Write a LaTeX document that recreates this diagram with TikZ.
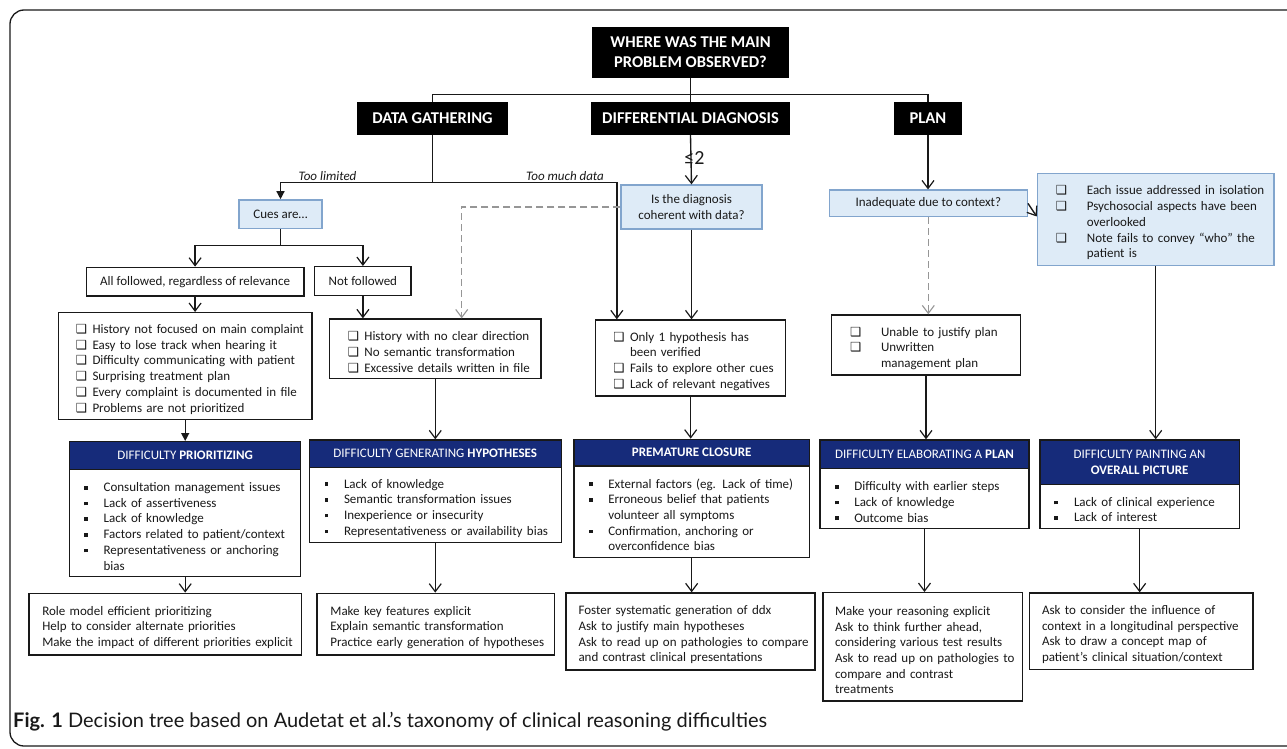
\documentclass[tikz,border=0pt]{standalone}
\usepackage{fontspec}
\setmainfont{Carlito}
\newfontfamily\dejavu{DejaVu Sans}
\newfontfamily\capfont{Lato}
\usetikzlibrary{arrows.meta,calc}
\definecolor{navy}{RGB}{22,43,122}
\definecolor{lblue}{RGB}{222,235,247}
\definecolor{bblue}{RGB}{130,165,205}
\definecolor{dgrey}{RGB}{150,150,150}
\definecolor{ink}{RGB}{25,25,25}
\newcommand\mychk{{\dejavu\fontsize{12.5}{12.5}\selectfont ❑}}
\newcommand\myblt{\raisebox{2pt}{\rule{3.6pt}{3.6pt}}}
\newcommand\Litem[3]{\par\noindent\makebox[#1][l]{#2}\mbox{#3}}
\newcommand\Lcont[2]{\par\noindent\hspace*{#1}\mbox{#2}}
\newcommand\Lline[1]{\par\noindent\mbox{#1}}
\tikzset{
  conn/.style={line width=1.35pt, draw=ink},
  oarr/.style={conn, -{Straight Barb[length=8pt,width=12pt,line width=1.2pt]}},
  farr/.style={conn, -{Triangle[length=8pt,width=8pt]}},
  dsh/.style={line width=1.3pt, draw=dgrey, dash pattern=on 7pt off 4pt, -{Straight Barb[length=8pt,width=12pt,line width=1.1pt]}},
  blk/.style={fill=black, text=white, font=\fontsize{16.5}{20}\selectfont\bfseries, inner sep=0pt, align=center},
  lbl/.style={fill=lblue, draw=bblue, line width=1.3pt, text=ink, font=\fontsize{13}{15.7}\selectfont, align=center, inner sep=0pt},
  wbox/.style={draw=ink, line width=1.35pt, fill=white, text=ink, font=\fontsize{13}{15.7}\selectfont, align=left, inner ysep=0pt},
  wcbox/.style={draw=ink, line width=1.35pt, fill=white, text=ink, font=\fontsize{13}{15.7}\selectfont, align=center, inner sep=0pt},
  hdr/.style={draw=ink, line width=1.35pt, fill=navy, text=white, font=\fontsize{13}{15.7}\selectfont, align=center, inner sep=0pt},
  lab/.style={text=ink, font=\fontsize{13}{15}\selectfont\itshape, inner sep=1pt}
}
\begin{document}
\begin{tikzpicture}[x=1pt,y=-1pt]
\clip (0,0) rectangle (1287,749);
\fill[white] (0,0) rectangle (1287,749);
\draw[line width=1.3pt, draw=ink, rounded corners=14pt] (10,10) rectangle (1310,746);

% top level
\node[blk, minimum width=197pt, minimum height=51pt] (Q) at (690.5,52.5) {WHERE WAS THE MAIN\\PROBLEM OBSERVED?};
\node[blk, minimum width=151pt, minimum height=33pt] (DG) at (432.5,118.5) {DATA GATHERING};
\node[blk, minimum width=199pt, minimum height=33pt] (DD) at (690.5,118.5) {DIFFERENTIAL DIAGNOSIS};
\node[blk, minimum width=67.5pt, minimum height=33pt] (PL) at (928,118.5) {PLAN};

% blue question boxes
\node[lbl, minimum width=83pt, minimum height=28.3pt] (Cues) at (280.5,214) {Cues are…};
\node[lbl, minimum width=141pt, minimum height=44pt] (IsD) at (691.5,207) {Is the diagnosis\\coherent with data?};
\node[lbl, minimum width=198pt, minimum height=26.7pt] (Inad) at (928.3,203.4) {Inadequate due to context?};
\node[lbl, align=left, minimum width=236.7pt, minimum height=91.6pt, text width=199.7pt, inner xsep=18.5pt] (RB) at (1155.7,219.5) {%
\Litem{31pt}{\mychk}{Each issue addressed in isolation}%
\Litem{31pt}{\mychk}{Psychosocial aspects have been}%
\Lcont{31pt}{overlooked}%
\Litem{31pt}{\mychk}{Note fails to convey “who” the}%
\Lcont{31pt}{patient is}};

% cue outcomes
\node[wcbox, minimum width=217.8pt, minimum height=28.7pt] (AF) at (195.1,281.7) {All followed, regardless of relevance};
\node[wcbox, minimum width=96.2pt, minimum height=28.6pt] (NF) at (362.9,281) {Not followed};

% checklists
\node[wbox, minimum width=253.4pt, minimum height=106.6pt, text width=218.8pt, inner xsep=17.3pt] (L1) at (185.2,366) {%
\Litem{16.7pt}{\mychk}{History not focused on main complaint}%
\Litem{16.7pt}{\mychk}{Easy to lose track when hearing it}%
\Litem{16.7pt}{\mychk}{Difficulty communicating with patient}%
\Litem{16.7pt}{\mychk}{Surprising treatment plan}%
\Litem{16.7pt}{\mychk}{Every complaint is documented in file}%
\Litem{16.7pt}{\mychk}{Problems are not prioritized}};
\node[wbox, minimum width=211.3pt, minimum height=59.7pt, text width=174.9pt, inner xsep=18.2pt] (L2) at (435.25,348.85) {%
\Litem{16.6pt}{\mychk}{History with no clear direction}%
\Litem{16.6pt}{\mychk}{No semantic transformation}%
\Litem{16.6pt}{\mychk}{Excessive details written in file}};
\node[wbox, minimum width=190pt, minimum height=76pt, text width=154.8pt, inner xsep=17.6pt] (O1) at (690.7,358) {%
\Litem{16.7pt}{\mychk}{Only 1 hypothesis has}%
\Lcont{16.7pt}{been verified}%
\Litem{16.7pt}{\mychk}{Fails to explore other cues}%
\Litem{16.7pt}{\mychk}{Lack of relevant negatives}};
\node[wbox, minimum width=188.6pt, minimum height=60pt, text width=152pt, inner xsep=18.3pt] (UN) at (926,345) {%
\Litem{31pt}{\mychk}{Unable to justify plan}%
\Litem{31pt}{\mychk}{Unwritten}%
\Lcont{31pt}{management plan}};

% difficulty boxes: headers
\node[hdr, minimum width=231.2pt, minimum height=27.6pt] (P1h) at (185.2,455.5) {DIFFICULTY \textbf{PRIORITIZING}};
\node[hdr, minimum width=251.9pt, minimum height=27.3pt] (Hh) at (435.25,453.65) {DIFFICULTY GENERATING \textbf{HYPOTHESES}};
\node[hdr, minimum width=235.3pt, minimum height=26.7pt] (PCh) at (691.65,452.65) {\textbf{PREMATURE CLOSURE}};
\node[hdr, minimum width=209pt, minimum height=28.7pt] (EPh) at (924.5,454.35) {DIFFICULTY ELABORATING A \textbf{PLAN}};
\node[hdr, minimum width=199.3pt, minimum height=44.3pt] (OPh) at (1139.65,462.15) {DIFFICULTY PAINTING AN\\\textbf{OVERALL PICTURE}};

% difficulty boxes: bodies
\node[wbox, minimum width=231.2pt, minimum height=107.4pt, text width=201.6pt, inner xsep=14.8pt] (P1b) at (185.2,523) {%
\Litem{19.2pt}{\myblt}{Consultation management issues}%
\Litem{19.2pt}{\myblt}{Lack of assertiveness}%
\Litem{19.2pt}{\myblt}{Lack of knowledge}%
\Litem{19.2pt}{\myblt}{Factors related to patient/context}%
\Litem{19.2pt}{\myblt}{Representativeness or anchoring}%
\Lcont{19.2pt}{bias}};
\node[wbox, minimum width=251.9pt, minimum height=75pt, text width=221.5pt, inner xsep=15.2pt] (Hb) at (435.25,504.8) {%
\Litem{19.5pt}{\myblt}{Lack of knowledge}%
\Litem{19.5pt}{\myblt}{Semantic transformation issues}%
\Litem{19.5pt}{\myblt}{Inexperience or insecurity}%
\Litem{19.5pt}{\myblt}{Representativeness or availability bias}};
\node[wbox, minimum width=235.3pt, minimum height=91.3pt, text width=204.7pt, inner xsep=15.3pt] (PCb) at (691.65,511.65) {%
\Litem{19pt}{\myblt}{External factors (eg. Lack of time)}%
\Litem{19pt}{\myblt}{Erroneous belief that patients}%
\Lcont{19pt}{volunteer all symptoms}%
\Litem{19pt}{\myblt}{Confirmation, anchoring or}%
\Lcont{19pt}{overconfidence bias}};
\node[wbox, minimum width=209pt, minimum height=59.6pt, text width=179pt, inner xsep=15pt] (EPb) at (924.5,498.5) {%
\Litem{19.3pt}{\myblt}{Difficulty with earlier steps}%
\Litem{19.3pt}{\myblt}{Lack of knowledge}%
\Litem{19.3pt}{\myblt}{Outcome bias}};
\node[wbox, minimum width=199.3pt, minimum height=44pt, text width=171.3pt, inner xsep=14pt] (OPb) at (1139.65,506.3) {%
\Litem{20pt}{\myblt}{Lack of clinical experience}%
\Litem{20pt}{\myblt}{Lack of interest}};

% bottom strategy boxes
\node[wbox, minimum width=272.4pt, minimum height=61.7pt, text width=245.8pt, inner xsep=13.3pt] (B1) at (165.2,624.15) {%
\Lline{Role model efficient prioritizing}%
\Lline{Help to consider alternate priorities}%
\Lline{Make the impact of different priorities explicit}};
\node[wbox, minimum width=237.3pt, minimum height=61.7pt, text width=210.5pt, inner xsep=13.4pt] (B2) at (435.65,624.15) {%
\Lline{Make key features explicit}%
\Lline{Explain semantic transformation}%
\Lline{Practice early generation of hypotheses}};
\node[wbox, minimum width=249pt, minimum height=77pt, text width=224pt, inner xsep=12.5pt] (B3) at (690.5,631.5) {%
\Lline{Foster systematic generation of ddx}%
\Lline{Ask to justify main hypotheses}%
\Lline{Ask to read up on pathologies to compare}%
\Lline{and contrast clinical presentations}};
\node[wbox, minimum width=199.8pt, minimum height=108.3pt, text width=175.6pt, inner xsep=12.1pt] (B4) at (922.8,646.85) {%
\Lline{Make your reasoning explicit}%
\Lline{Ask to think further ahead,}%
\Lline{considering various test results}%
\Lline{Ask to read up on pathologies to}%
\Lline{compare and contrast}%
\Lline{treatments}};
\node[wbox, minimum width=223.4pt, minimum height=76.3pt, text width=198.6pt, inner xsep=12.4pt] (B5) at (1141.3,631.15) {%
\Lline{Ask to consider the influence of}%
\Lline{context in a longitudinal perspective}%
\Lline{Ask to draw a concept map of}%
\Lline{patient’s clinical situation/context}};

% labels
\node[lab, anchor=south] (tl) at (327.5,181.5) {Too limited};
\node[lab, anchor=south] (tm) at (565,181.5) {Too much data};

% connectors
\coordinate (j1) at (690.5,94.3);
\draw[conn] (Q.south) -- (DD.north);
\draw[conn] (DG.north) |- (j1) -| (PL.north);
\draw[oarr] (DD.south) -- (IsD.north);
\node[text=ink, font=\fontsize{20}{21}\selectfont] (le) at (694.5,158) {≤2};
\coordinate (j2) at (432.5,182.3);
\coordinate (o1) at ($(O1.north west)+(21.8,0)$);
\draw[conn] (DG.south) -- (j2);
\draw[farr] (j2) -| (Cues.north);
\draw[oarr] (j2) -| (o1);
\coordinate (j3) at (280.5,245.3);
\draw[conn] (Cues.south) -- (j3);
\draw[oarr] (j3) -| (AF.north);
\draw[oarr] (j3) -| (NF.north);
\draw[oarr] (AF.south) -- (AF.south |- L1.north);
\draw[farr] (L1.south) -- (P1h.north);
\draw[oarr] (P1b.south) -- (P1b.south |- B1.north);
\draw[oarr] (NF.south) -- (NF.south |- L2.north);
\coordinate (d1) at ($(L2.north)+(26.45,0)$);
\draw[dsh] (IsD.west) -| (d1);
\draw[oarr] (L2.south) -- (Hh.north);
\draw[oarr] (Hb.south) -- (Hb.south |- B2.north);
\draw[oarr] (IsD.south) -- (IsD.south |- O1.north);
\draw[oarr] (O1.south) -- (O1.south |- PCh.north);
\draw[oarr] (PCb.south) -- (PCb.south |- B3.north);
\draw[oarr] (PL.south) -- (PL.south |- Inad.north);
\coordinate (r1) at ($(RB.west)+(0,-3)$);
\draw[oarr] (Inad.east) -- (r1);
\draw[dsh] (Inad.south) -- (Inad.south |- UN.north);
\draw[oarr] (UN.south) -- (UN.south |- EPh.north);
\draw[oarr] (EPb.south) -- (EPb.south |- B4.north);
\draw[oarr] (RB.south) -- (RB.south |- OPh.north);
\draw[oarr] (OPb.south) -- (OPb.south |- B5.north);

% caption
\node[anchor=west, text=ink, inner sep=0pt, font=\capfont\fontsize{20}{23}\selectfont] (cap) at (13,722) {\textbf{Fig. 1} Decision tree based on Audetat et al.’s taxonomy of clinical reasoning difficulties};
\end{tikzpicture}
\end{document}
